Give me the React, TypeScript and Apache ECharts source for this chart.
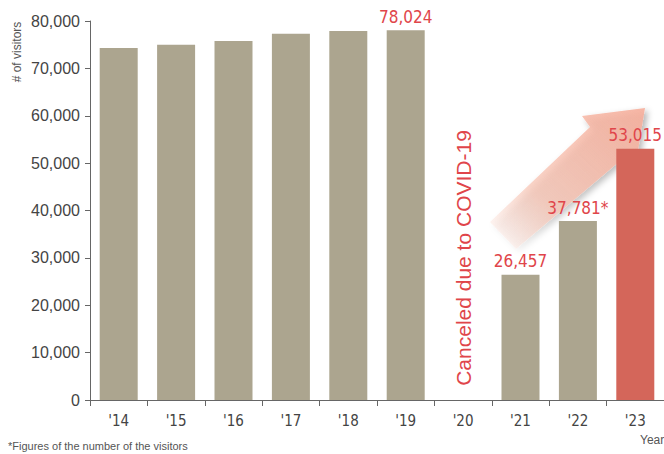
import React, { useEffect, useRef } from "react";
import * as echarts from "echarts";

const years = ["'14", "'15", "'16", "'17", "'18", "'19", "'20", "'21", "'22", "'23"];
const visitors: (number | null)[] = [74300, 75000, 75800, 77300, 77900, 78024, null, 26457, 37781, 53015];
const labelTexts: (string | null)[] = [null, null, null, null, null, "78,024", null, "26,457", "37,781*", "53,015"];
const yTicks = { min: 0, max: 80000, interval: 10000 };

const FONT = "'Liberation Sans', Arial, sans-serif";
const COND = "'DejaVu Sans Condensed', 'Liberation Sans Narrow', sans-serif";
const RED = "#e0454a";

export default function App() {
  const ref = useRef<HTMLDivElement>(null);
  useEffect(() => {
    document.body.style.margin = "0";
    const chart = echarts.init(ref.current!, undefined, { renderer: "svg" });
    const data = visitors.map((v, i) => ({
      value: v,
      itemStyle: { color: i === visitors.length - 1 ? "#d4665a" : "#aca58f" },
      label: {
        show: labelTexts[i] != null,
        formatter: () => labelTexts[i] as string,
      },
    }));
    chart.setOption({
      animation: false,
      grid: { left: 90, top: 21, width: 576, height: 379 },
      xAxis: {
        type: "category",
        data: years,
        axisLine: { lineStyle: { color: "#666", width: 1 } },
        axisTick: { show: true, length: 6, lineStyle: { color: "#666" } },
        axisLabel: { color: "#444", fontSize: 15, fontFamily: COND, margin: 13 },
      },
      yAxis: {
        type: "value",
        min: yTicks.min,
        max: yTicks.max,
        interval: yTicks.interval,
        splitLine: { show: false },
        axisLine: { show: true, lineStyle: { color: "#666", width: 1 } },
        axisTick: { show: true, length: 5, lineStyle: { color: "#666" } },
        axisLabel: {
          color: "#444",
          fontSize: 16,
          fontFamily: FONT,
          margin: 10,
          formatter: (v: number) => v.toLocaleString("en-US"),
        },
      },
      series: [
        {
          type: "bar",
          data,
          barWidth: 38,
          label: {
            position: "top",
            distance: 5,
            color: RED,
            fontSize: 17,
            fontFamily: COND,
          },
        },
      ],
      graphic: [
        {
          type: "text",
          x: 17,
          y: 52,
          rotation: Math.PI / 2,
          style: {
            text: "# of visitors",
            fill: "#555",
            font: `12px ${FONT}`,
            align: "center",
            verticalAlign: "middle",
          },
        },
        {
          type: "text",
          x: 463,
          y: 258,
          rotation: Math.PI / 2,
          style: {
            text: "Canceled due to COVID-19",
            fill: RED,
            font: `21px ${FONT}`,
            align: "center",
            verticalAlign: "middle",
          },
        },
        {
          type: "polygon",
          shape: {
            points: [
              [490, 222],
              [590, 127],
              [582, 116],
              [645, 108],
              [634, 175],
              [620, 161],
              [516, 249],
            ],
          },
          style: {
            fill: new echarts.graphic.LinearGradient(0, 1, 1, 0, [
              { offset: 0, color: "rgba(247,185,165,0)" },
              { offset: 0.35, color: "rgba(247,185,165,0.6)" },
              { offset: 1, color: "rgba(246,170,150,0.85)" },
            ]),
            shadowBlur: 6,
            shadowColor: "rgba(0,0,0,0.35)",
            shadowOffsetX: 3,
            shadowOffsetY: 3,
          },
        },
        {
          type: "text",
          x: 640,
          y: 440,
          style: {
            text: "Year",
            fill: "#555",
            font: `12px ${FONT}`,
            align: "left",
            verticalAlign: "middle",
          },
        },
        {
          type: "text",
          x: 8,
          y: 440,
          style: {
            text: "*Figures of the number of the visitors",
            fill: "#555",
            font: `11px ${FONT}`,
            align: "left",
            verticalAlign: "top",
          },
        },
      ],
    });
    return () => chart.dispose();
  }, []);
  return <div ref={ref} style={{ width: 664, height: 454 }} />;
}
